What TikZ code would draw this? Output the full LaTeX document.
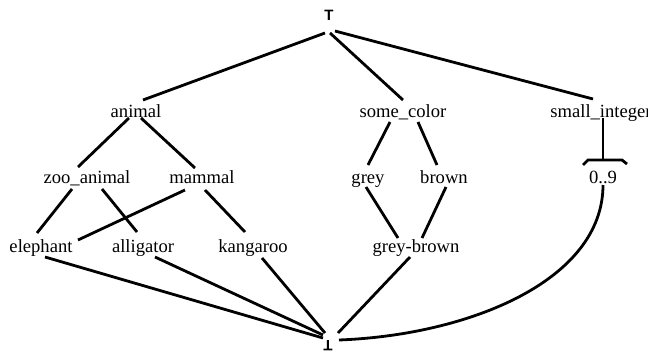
\documentclass[tikz,border=0pt]{standalone}
\usepackage{fontspec}
\setmainfont{Liberation Serif}
\newfontfamily\symfont{Liberation Sans}
\usetikzlibrary{calc}
\begin{document}
\begin{tikzpicture}[x=1pt,y=-1pt,
  lbl/.style={inner sep=0pt,anchor=base,font=\fontsize{18.6}{20}\selectfont},
  bound/.style={inner sep=0pt,font=\symfont\bfseries\fontsize{15}{16}\selectfont},
  edge/.style={line width=2.8pt}]
\useasboundingbox (0,0) rectangle (648,356);
\fill[white] (0,0) rectangle (648,356);

% top and bottom of the lattice
\node[bound] (top) at (329,15) {T};
\node[bound,rotate=180] (bot) at (328,346) {T};

% first level
\node[lbl] (animal) at (136,117) {animal};
\node[lbl] (somecolor) at (403,117) {some\_color};
\node[lbl] (smallint) at (601,117) {small\_integer};

% second level
\node[lbl] (zoo) at (87,183) {zoo\_animal};
\node[lbl] (mammal) at (202,183) {mammal};
\node[lbl] (grey) at (368,183) {grey};
\node[lbl] (brown) at (444,183) {brown};
\node[lbl] (digits) at (603,183) {0..9};

% third level
\node[lbl] (elephant) at (41,252) {elephant};
\node[lbl] (alligator) at (143,252) {alligator};
\node[lbl] (kangaroo) at (253,252) {kangaroo};
\node[lbl] (greybrown) at (416,252) {grey-brown};

% edges
\draw[edge] ($(top)+(-4,18)$) -- ($(animal.base)+(7,-17)$);
\draw[edge] ($(top)+(1,18)$) -- ($(somecolor.base)+(0,-17)$);
\draw[edge] ($(top)+(6,16)$) -- ($(smallint.base)+(-8,-18)$);

\draw[edge] ($(animal.base)+(-7,1)$) -- ($(zoo.base)+(-9,-16)$);
\draw[edge] ($(animal.base)+(5,1)$) -- ($(mammal.base)+(-7,-15)$);

\draw[edge] ($(zoo.base)+(-15,6)$) -- ($(elephant.base)+(-4,-19)$);
\draw[edge] ($(zoo.base)+(15,6)$) -- ($(alligator.base)+(-6,-20)$);
\draw[edge] ($(mammal.base)+(-17,7)$) -- ($(elephant.base)+(37,-12)$);
\draw[edge] ($(mammal.base)+(3,7)$) -- ($(kangaroo.base)+(-8,-20)$);

\draw[edge] ($(somecolor.base)+(-13,5)$) -- ($(grey.base)+(0,-18)$);
\draw[edge] ($(somecolor.base)+(15,5)$) -- ($(brown.base)+(-7,-18)$);
\draw[edge] ($(grey.base)+(-2,4)$) -- ($(greybrown.base)+(-18,-14)$);
\draw[edge] ($(brown.base)+(2,4)$) -- ($(greybrown.base)+(6,-14)$);

\draw[edge] ($(smallint.base)+(2,1)$) -- ($(digits.base)+(0,-23)$);
\draw[edge] ($(digits.base)+(-20,-18)$) -- ($(digits.base)+(-15,-23)$)
  -- ($(digits.base)+(19,-23)$) -- ($(digits.base)+(24,-19)$);

\draw[edge] ($(elephant.base)+(4,5)$) -- ($(bot)+(-5,-8)$);
\draw[edge] ($(alligator.base)+(12,5)$) -- ($(bot)+(-5,-11)$);
\draw[edge] ($(kangaroo.base)+(9,6)$) -- ($(bot)+(-3,-13)$);
\draw[edge] ($(greybrown.base)+(-6,5)$) -- ($(bot)+(10,-13)$);
\draw[edge] ($(digits.base)+(0,2)$) .. controls +(0,95) and +(131,-5) .. ($(bot)+(11,-6)$);
\end{tikzpicture}
\end{document}
